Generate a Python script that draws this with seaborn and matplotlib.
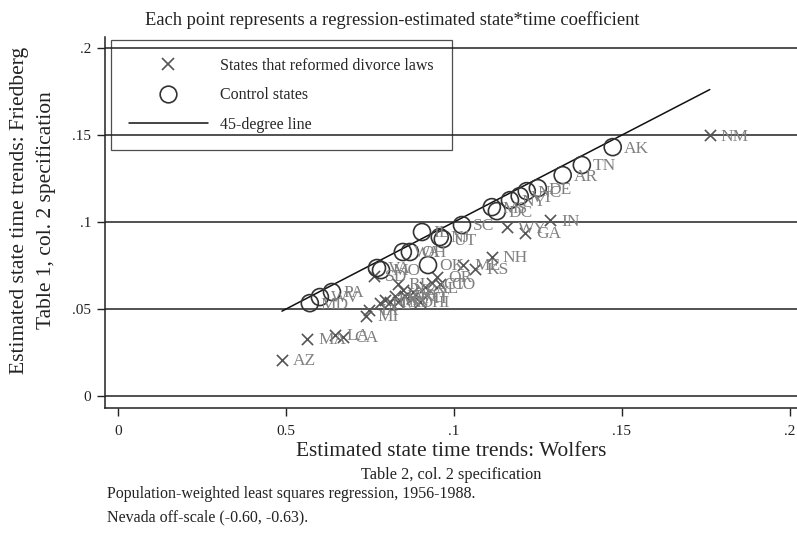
import numpy as np
import pandas as pd
import seaborn as sns
import matplotlib.pyplot as plt
from matplotlib.lines import Line2D

# States that reformed divorce laws (x markers)
reform_states = ['NM', 'IN', 'GA', 'WY', 'NH', 'ME', 'KS', 'OR', 'CO', 'CT',
                 'KY', 'AL', 'RI', 'NE', 'MN', 'ND', 'MT', 'HI', 'FL', 'TX',
                 'ID', 'WI', 'MI', 'IA', 'SD', 'AZ', 'MA', 'LA', 'CA']
reform_wolfers = [0.1762, 0.1286, 0.1211, 0.1158, 0.1113, 0.1027, 0.1063, 0.0949, 0.0958, 0.0935,
                  0.0878, 0.0914, 0.0833, 0.0848, 0.0810, 0.0833, 0.0875, 0.0899, 0.0780, 0.0795,
                  0.0824, 0.0854, 0.0738, 0.0747, 0.0762, 0.0488, 0.0563, 0.0646, 0.0670]
reform_friedberg = [0.1500, 0.1011, 0.0937, 0.0971, 0.0799, 0.0753, 0.0730, 0.0684, 0.0644, 0.0649,
                    0.0598, 0.0626, 0.0644, 0.0609, 0.0540, 0.0540, 0.0563, 0.0540, 0.0534, 0.0552,
                    0.0575, 0.0575, 0.0460, 0.0494, 0.0690, 0.0207, 0.0328, 0.0351, 0.0339]

# Control states (hollow circles)
control_states = ['AK', 'TN', 'AR', 'DE', 'NC', 'VT', 'NY', 'MS', 'DC', 'SC', 'IL',
                  'NJ', 'UT', 'WA', 'OH', 'VA', 'MO', 'OK', 'PA', 'WV', 'MD']
control_wolfers = [0.1473, 0.1381, 0.1324, 0.1250, 0.1217, 0.1196, 0.1167, 0.1113, 0.1128, 0.1024, 0.0905,
                   0.0958, 0.0967, 0.0848, 0.0869, 0.0771, 0.0783, 0.0923, 0.0637, 0.0601, 0.0571]
control_friedberg = [0.1431, 0.1328, 0.1270, 0.1195, 0.1178, 0.1149, 0.1126, 0.1086, 0.1063, 0.0983, 0.0943,
                     0.0914, 0.0902, 0.0828, 0.0828, 0.0736, 0.0724, 0.0753, 0.0598, 0.0569, 0.0534]

x_ticks = [0, 0.05, 0.1, 0.15, 0.2]
x_tick_labels = ['0', '0.5', '.1', '.15', '.2']
y_ticks = [0, 0.05, 0.1, 0.15, 0.2]
y_tick_labels = ['0', '.05', '.1', '.15', '.2']

reform = pd.DataFrame({'state': reform_states, 'wolfers': reform_wolfers, 'friedberg': reform_friedberg})
control = pd.DataFrame({'state': control_states, 'wolfers': control_wolfers, 'friedberg': control_friedberg})

sns.set_theme(style='white')
plt.rcParams['font.family'] = ['Liberation Serif', 'DejaVu Serif']

fig = plt.figure(figsize=(7.97, 5.39), dpi=100)
ax = fig.add_axes([0.1317, 0.243, 0.868, 0.688])

# horizontal grid lines at the y ticks
for yv in y_ticks:
    ax.axhline(yv, color='#222222', lw=1.1, zorder=1)

# 45-degree line over the range of the data
all_x = np.concatenate([reform['wolfers'], control['wolfers']])
lo, hi = all_x.min(), all_x.max()
ax.plot([lo, hi], [lo, hi], color='#111111', lw=1.1, zorder=2)

sns.scatterplot(data=reform, x='wolfers', y='friedberg', marker='x', s=65,
                color='#555555', linewidth=1.2, ax=ax, zorder=3, legend=False)
sns.scatterplot(data=control, x='wolfers', y='friedberg', marker='o', s=150,
                facecolors='none', edgecolor='#333333', linewidth=1.2, ax=ax, zorder=3, legend=False)

for df in (reform, control):
    for _, r in df.iterrows():
        ax.annotate(r['state'], (r['wolfers'], r['friedberg']), xytext=(8, -1),
                    textcoords='offset points', va='center', ha='left',
                    fontsize=12.5, color='#808080', zorder=4)

ax.set_xlim(-0.0039, 0.2021)
ax.set_ylim(-0.0069, 0.2063)
ax.set_xticks(x_ticks)
ax.set_xticklabels(x_tick_labels)
ax.set_yticks(y_ticks)
ax.set_yticklabels(y_tick_labels)
ax.set_xlabel('')
ax.set_ylabel('')
ax.tick_params(bottom=True, left=True, direction='out', length=6, width=1,
               color='#222222', labelsize=11, labelcolor='#222222')
ax.tick_params(axis='y', pad=4)
ax.tick_params(axis='x', pad=6)
for side in ['top', 'right']:
    ax.spines[side].set_visible(False)
for side in ['left', 'bottom']:
    ax.spines[side].set_color('#222222')
    ax.spines[side].set_linewidth(1.1)

handles = [
    Line2D([], [], marker='x', ls='none', color='#555555', ms=8.5, mew=1.2),
    Line2D([], [], marker='o', ls='none', mfc='none', mec='#333333', ms=12, mew=1.2),
    Line2D([], [], color='#111111', lw=1.1),
]
leg = ax.legend(handles, ['States that reformed divorce laws', 'Control states', '45-degree line'],
                loc='upper left', bbox_to_anchor=(0.0087, 0.992), borderaxespad=0,
                fontsize=11.5, handlelength=5.0, handletextpad=0.75, labelspacing=0.85,
                borderpad=1.1, fancybox=False, frameon=True)
leg.get_frame().set_edgecolor('#222222')
leg.get_frame().set_facecolor('none')
leg.get_frame().set_linewidth(0.9)

fig.text(0.492, 0.963, 'Each point represents a regression-estimated state*time coefficient',
         ha='center', va='center', fontsize=13.3, color='#222222')
fig.text(0.024, 0.61, 'Estimated state time trends: Friedberg', rotation=90,
         ha='center', va='center', fontsize=15.5, color='#222222')
fig.text(0.058, 0.61, 'Table 1, col. 2 specification', rotation=90,
         ha='center', va='center', fontsize=15.5, color='#222222')
fig.text(0.566, 0.163, 'Estimated state time trends: Wolfers',
         ha='center', va='center', fontsize=15.4, color='#222222')
fig.text(0.566, 0.119, 'Table 2, col. 2 specification',
         ha='center', va='center', fontsize=11.7, color='#222222')
fig.text(0.134, 0.083, 'Population-weighted least squares regression, 1956-1988.',
         ha='left', va='center', fontsize=11.5, color='#222222')
fig.text(0.134, 0.041, 'Nevada off-scale (-0.60, -0.63).',
         ha='left', va='center', fontsize=11.5, color='#222222')

fig.savefig('out.png', dpi=100)
